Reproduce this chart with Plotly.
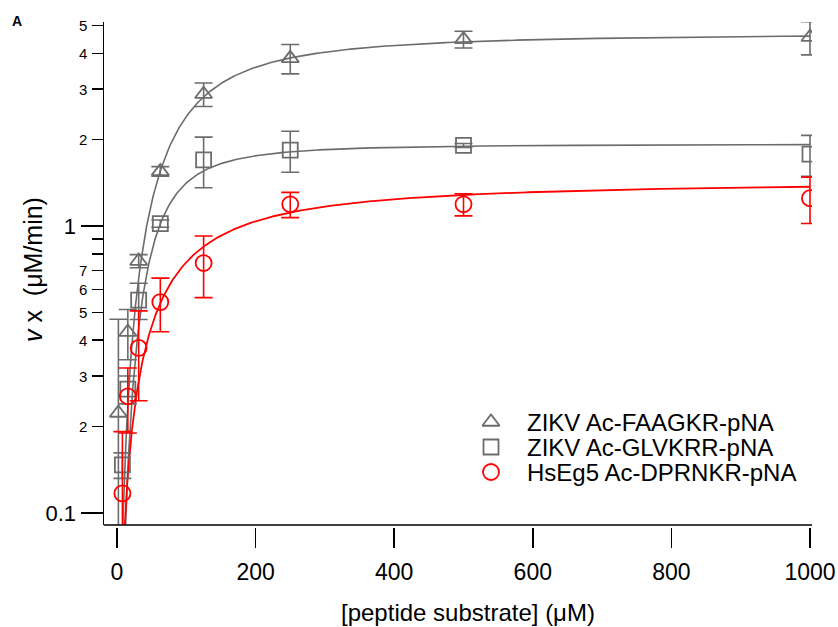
import numpy as np
import plotly.graph_objects as go

# ---------------- data ----------------
conc = [7.8125, 15.625, 31.25, 62.5, 125, 250, 500, 1000]

tri_x = [2.0, 15.625, 31.25, 62.5, 125, 250, 500, 1000]
tri_y = [0.223, 0.427, 0.755, 1.55, 2.88, 3.84, 4.47, 4.55]
tri_err = [0.25, 0.085, 0.04, 0.06, 0.27, 0.45, 0.30, 0.60]

sq_x = conc
sq_y = [0.147, 0.27, 0.552, 1.02, 1.70, 1.84, 1.91, 1.78]
sq_err = [0.015, 0.03, 0.08, 0.03, 0.34, 0.30, 0.03, 0.29]

cir_x = conc
cir_y = [0.117, 0.255, 0.376, 0.543, 0.743, 1.19, 1.19, 1.25]
cir_err = [0.075, 0.065, 0.13, 0.115, 0.18, 0.12, 0.105, 0.23]

# fitted kinetic parameters (Vmax, K, Hill n) for the fit curves
fit_tri = [4.7, 97.0, 1.6]
fit_sq = [1.93, 59.0, 1.9]
fit_cir = [1.44, 94.0, 1.26]

names = ["ZIKV Ac-FAAGKR-pNA", "ZIKV Ac-GLVKRR-pNA", "HsEg5 Ac-DPRNKR-pNA"]

x_ticks = [0, 200, 400, 600, 800, 1000]
y_major = [0.1, 1]
y_major_text = ["0.1", "1"]
y_minor = [0.2, 0.3, 0.4, 0.5, 0.6, 0.7, 0.8, 0.9, 2, 3, 4, 5]
y_minor_labels = {0.2: "2", 0.3: "3", 0.4: "4", 0.5: "5", 0.6: "6", 0.7: "7",
                  2: "2", 3: "3", 4: "4", 5: "5"}

GRAY = "rgb(108,108,108)"
RED = "rgb(255,0,0)"
FONT = "Liberation Sans, Arial, sans-serif"

# ---------------- geometry (page px; body margin removed in post_script) ----------------
W, H = 838, 627
PLOT_LEFT, PLOT_RIGHT = 104, 812       # page px
PLOT_TOP, PLOT_BOTTOM = 22, 548        # page px (x-axis baseline at bottom)
FRAME_BOTTOM = 525                      # page px
L = PLOT_LEFT
R = W - PLOT_RIGHT
T = PLOT_TOP
B = H - PLOT_BOTTOM
plot_w = W - L - R
plot_h = H - T - B
d = (PLOT_BOTTOM - FRAME_BOTTOM) / plot_h


def px_x(p):
    return (p - PLOT_LEFT) / plot_w


def px_y(p):
    return (PLOT_BOTTOM - p) / plot_h


S = np.unique(np.concatenate([np.geomspace(0.3, 60, 400), np.linspace(60, 1000, 500)]))


def hill(p, s):
    vmax, k, n = p
    return vmax * s ** n / (k ** n + s ** n)


fig = go.Figure()

# fit curves
for p, col, w in [(fit_tri, GRAY, 1.6), (fit_sq, GRAY, 1.6), (fit_cir, RED, 1.8)]:
    fig.add_trace(go.Scatter(x=S, y=hill(p, S), mode="lines",
                             line=dict(color=col, width=w), showlegend=False,
                             hoverinfo="skip"))

# data points
series = [
    (tri_x, tri_y, tri_err, "triangle-up-open", 15, GRAY),
    (sq_x, sq_y, sq_err, "square-open", 15, GRAY),
    (cir_x, cir_y, cir_err, "circle-open", 16, RED),
]
for (xs, ys, es, sym, sz, col), nm in zip(series, names):
    fig.add_trace(go.Scatter(
        x=xs, y=ys, mode="markers", name=nm, showlegend=False,
        marker=dict(symbol=sym, size=sz, color=col, line=dict(color=col, width=1.8)),
        error_y=dict(type="data", array=es, visible=True, color=col,
                     thickness=1.6, width=9),
    ))

# manual legend (markers on helper axes + text annotations)
leg_rows_px = [422, 447, 472]
leg_marker_px = 491
leg_text_px = 525
frame_h = FRAME_BOTTOM - PLOT_TOP
for (xs, ys, es, sym, sz, col), nm, ypx in zip(series, names, leg_rows_px):
    yy = (FRAME_BOTTOM - ypx) / frame_h
    fig.add_trace(go.Scatter(
        x=[px_x(leg_marker_px)], y=[yy],
        xaxis="x2", yaxis="y2", mode="markers", showlegend=False, hoverinfo="skip",
        marker=dict(symbol=sym, size=sz, color=col, line=dict(color=col, width=1.8)),
    ))
    fig.add_annotation(x=px_x(leg_text_px), y=yy,
                       xref="x2", yref="y2", xanchor="left", yanchor="middle",
                       text=nm, showarrow=False, font=dict(size=24, color="black", family=FONT))

# minor y tick labels
for v, t in y_minor_labels.items():
    fig.add_annotation(x=0, y=np.log10(v), xref="paper", yref="y", xanchor="right",
                       yanchor="middle", xshift=-15, text=t, showarrow=False,
                       font=dict(size=15, color="black", family=FONT))

# axis titles and panel label
fig.add_annotation(x=px_x(33), y=px_y(270), xref="paper", yref="paper",
                   text="<i>v</i>\u00a0x\u00a0\u00a0(μM/min)", textangle=-90, showarrow=False,
                   xanchor="center", yanchor="middle", font=dict(size=25, color="black", family=FONT))
fig.add_annotation(x=px_x(468), y=px_y(612), xref="paper", yref="paper",
                   text="[peptide substrate] (μM)", showarrow=False,
                   xanchor="center", yanchor="middle", font=dict(size=24, color="black", family=FONT))
fig.add_annotation(x=px_x(17), y=px_y(21), xref="paper", yref="paper",
                   text="<b>A</b>", showarrow=False, xanchor="center", yanchor="middle",
                   font=dict(size=14, color="black", family=FONT))

# bottom frame line
fig.add_shape(type="line", xref="paper", yref="paper", x0=0, x1=1, y0=d, y1=d,
              line=dict(color="black", width=1.5))

fig.update_layout(
    width=W, height=H,
    margin=dict(l=L, r=R, t=T, b=B, autoexpand=False),
    paper_bgcolor="white", plot_bgcolor="white",
    font=dict(family=FONT, color="black"),
    showlegend=False,
    xaxis=dict(range=[-18.76, 1002.9], anchor="free", position=0, showline=False,
               ticks="inside", ticklen=20, tickwidth=1.5, tickcolor="black",
               tickmode="array", tickvals=x_ticks, tickfont=dict(size=23),
               ticklabelstandoff=8, showgrid=False, zeroline=False, automargin=False),
    yaxis=dict(type="log", range=[-1.042, 0.711], domain=[d, 1], anchor="x",
               showline=True, linecolor="black", linewidth=1.5,
               ticks="outside", ticklen=22, tickwidth=1.5, tickcolor="black",
               tickmode="array", tickvals=y_major, ticktext=y_major_text,
               tickfont=dict(size=22), automargin=False,
               minor=dict(tickmode="array", tickvals=y_minor, ticks="outside",
                          ticklen=11, tickwidth=1.5, tickcolor="black", showgrid=False),
               showgrid=False, zeroline=False),
    xaxis2=dict(overlaying="x", range=[0, 1], visible=False),
    yaxis2=dict(overlaying="y", range=[0, 1], visible=False),
)

fig.write_html(
    "out.html",
    config={"displayModeBar": False, "staticPlot": True},
    post_script="document.body.style.margin='0';document.body.style.overflow='hidden';",
)
